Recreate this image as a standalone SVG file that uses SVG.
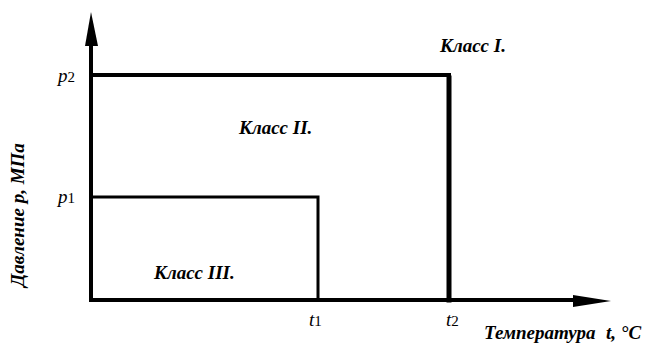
<svg xmlns="http://www.w3.org/2000/svg" width="672" height="353" viewBox="0 0 672 353">
<style>
.ln{stroke:#000;fill:none;stroke-linecap:square}
text{font-family:'Liberation Serif',serif;fill:#000}
.lbl{font-style:italic;font-weight:bold;font-size:19px}
.sym{font-style:italic;font-size:19px}
.sub{font-style:normal;font-size:15px}
</style>
<rect width="672" height="353" fill="#fff"/>
<g id="axes">
<line class="ln" x1="91" y1="300" x2="91" y2="44" stroke-width="4"/>
<polygon points="91,12 85,46 98,46"/>
<line class="ln" x1="91" y1="300" x2="576" y2="300" stroke-width="4"/>
<polygon points="611,301 573,295 573,307"/>
</g>
<g id="connectors">
<polyline class="ln" points="91,75 449,75 449,300" stroke-width="4"/>
<line class="ln" x1="449" y1="78" x2="449" y2="300" stroke-width="5"/>
<polyline class="ln" points="91,197 318,197 318,300" stroke-width="3"/>
</g>
<g id="class1"><text class="lbl" x="440" y="52">Класс I.</text></g>
<g id="class2"><text class="lbl" x="239" y="134">Класс II.</text></g>
<g id="class3"><text class="lbl" x="154" y="279">Класс III.</text></g>
<g id="p2"><text class="sym" x="58" y="82">p<tspan class="sub">2</tspan></text></g>
<g id="p1"><text class="sym" x="58" y="203">p<tspan class="sub">1</tspan></text></g>
<g id="t1"><text class="sym" x="309" y="326">t<tspan class="sub">1</tspan></text></g>
<g id="t2"><text class="sym" x="446" y="326">t<tspan class="sub">2</tspan></text></g>
<g id="xlabel"><text class="lbl" x="484" y="339" font-size="17">Температура<tspan x="606">t, °C</tspan></text></g>
<g id="ylabel"><text class="lbl" x="0" y="0" text-anchor="middle" transform="translate(24,215) rotate(-90)">Давление p, МПа</text></g>
</svg>
